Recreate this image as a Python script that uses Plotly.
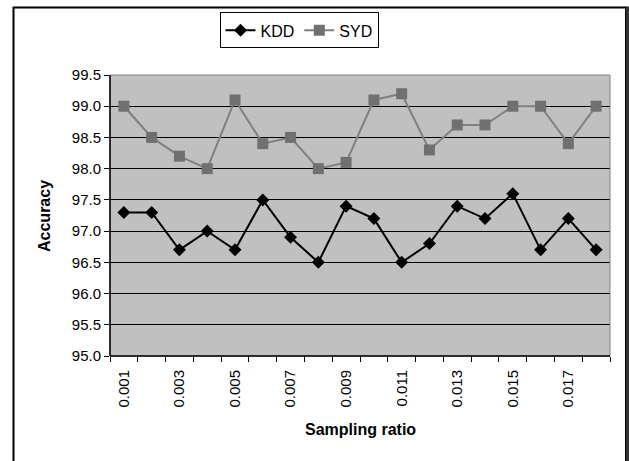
import plotly.graph_objects as go

ratios = [0.001, 0.002, 0.003, 0.004, 0.005, 0.006, 0.007, 0.008, 0.009,
          0.010, 0.011, 0.012, 0.013, 0.014, 0.015, 0.016, 0.017, 0.018]
kdd = [97.3, 97.3, 96.7, 97.0, 96.7, 97.5, 96.9, 96.5, 97.4,
       97.2, 96.5, 96.8, 97.4, 97.2, 97.6, 96.7, 97.2, 96.7]
syd = [99.0, 98.5, 98.2, 98.0, 99.1, 98.4, 98.5, 98.0, 98.1,
       99.1, 99.2, 98.3, 98.7, 98.7, 99.0, 99.0, 98.4, 99.0]
tick_labels = ["0.001", "0.003", "0.005", "0.007", "0.009", "0.011", "0.013", "0.015", "0.017"]
tick_vals = [float(t) for t in tick_labels]
boundaries = [round(r - 0.0005, 4) for r in ratios] + [0.0185]

FONT = "Liberation Sans, Arial, sans-serif"

fig = go.Figure()
fig.add_trace(go.Scatter(
    x=ratios, y=kdd, name="KDD", mode="lines+markers",
    line=dict(color="black", width=2),
    marker=dict(symbol="diamond", size=10, color="black"),
))
fig.add_trace(go.Scatter(
    x=ratios, y=syd, name="SYD", mode="lines+markers",
    line=dict(color="#808080", width=2),
    marker=dict(symbol="square", size=11, color="#707070"),
))

L, R, T, B = 110, 610, 73, 356
W, H = 629, 461

def px_x(p):
    return (p - L) / (R - L)

def px_y(p):
    return (B - p) / (B - T)

fig.update_layout(
    width=W, height=H,
    margin=dict(l=L, r=W - R, t=T, b=H - B, pad=0),
    paper_bgcolor="white",
    plot_bgcolor="#c0c0c0",
    font=dict(family=FONT, size=15, color="black"),
    showlegend=True,
    legend=dict(
        orientation="h", x=px_x(299), xanchor="center", y=px_y(10), yanchor="top",
        bordercolor="black", borderwidth=1, bgcolor="white",
        font=dict(family=FONT, size=16, color="black"),
        itemwidth=30, tracegroupgap=0,
    ),
    xaxis=dict(
        range=[0.0005, 0.0185],
        tickmode="array", tickvals=tick_vals, ticktext=tick_labels,
        tickangle=-90, ticks="outside", ticklen=7, tickcolor="rgba(0,0,0,0)",
        showgrid=False, zeroline=False, showline=False,
        tickfont=dict(family=FONT, size=15, color="black"),
        minor=dict(tickmode="array", tickvals=boundaries, ticks="outside",
                   ticklen=5, tickcolor="black", showgrid=False),
    ),
    yaxis=dict(
        range=[95, 99.5], dtick=0.5, tick0=95, tickformat=".1f",
        ticks="outside", ticklen=5, tickcolor="black",
        showgrid=True, gridcolor="black", gridwidth=1,
        zeroline=False, showline=False,
        tickfont=dict(family=FONT, size=15, color="black"),
    ),
    shapes=[
        dict(type="rect", xref="paper", yref="paper", x0=0, x1=1, y0=0, y1=1,
             line=dict(color="#808080", width=1), layer="above"),
        dict(type="line", xref="paper", yref="paper", x0=0, x1=0, y0=0, y1=1,
             line=dict(color="black", width=1.5), layer="above"),
        dict(type="line", xref="paper", yref="paper", x0=0, x1=1, y0=0, y1=0,
             line=dict(color="black", width=1.5), layer="above"),
        dict(type="rect", xref="paper", yref="paper",
             x0=px_x(13.5), x1=px_x(626), y0=px_y(466), y1=px_y(5),
             line=dict(color="black", width=2), layer="above"),
        dict(type="line", xref="paper", yref="paper",
             x0=px_x(627.5), x1=px_x(627.5), y0=px_y(466), y1=px_y(4),
             line=dict(color="#333333", width=3), layer="above"),
    ],
    annotations=[
        dict(text="<b>Accuracy</b>", xref="paper", yref="paper",
             x=px_x(45), y=px_y(215), textangle=-90, showarrow=False,
             xanchor="center", yanchor="middle",
             font=dict(family=FONT, size=16, color="black")),
        dict(text="<b>Sampling ratio</b>", xref="paper", yref="paper",
             x=px_x(360), y=px_y(430), showarrow=False,
             xanchor="center", yanchor="middle",
             font=dict(family=FONT, size=16, color="black")),
    ],
)

fig.write_html("out.html")
